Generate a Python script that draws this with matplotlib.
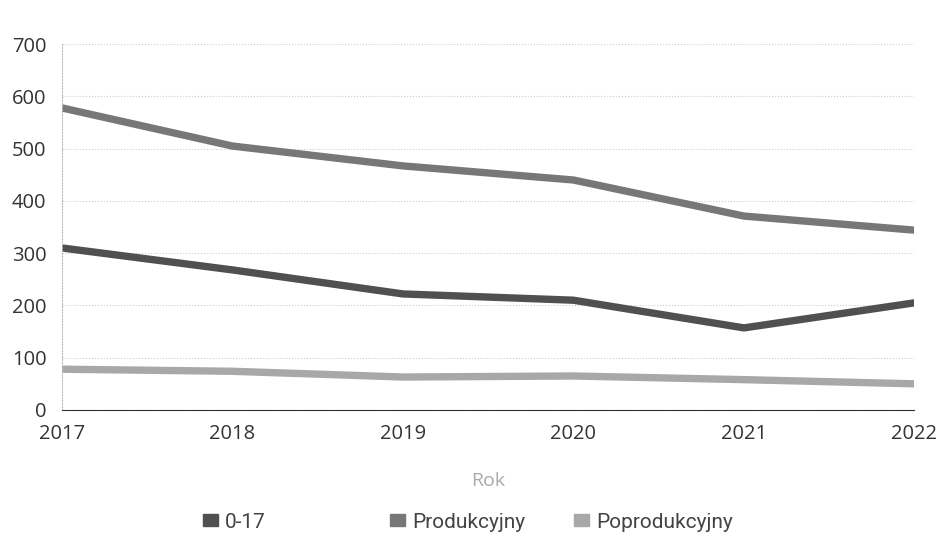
from matplotlib import pyplot as plt
from matplotlib.patches import Patch

plt.rcParams['font.family'] = ['Open Sans', 'DejaVu Sans']

years = [2017, 2018, 2019, 2020, 2021, 2022]
age_0_17 = [310, 268, 222, 210, 157, 205]
produkcyjny = [578, 505, 467, 440, 371, 344]
poprodukcyjny = [78, 74, 63, 65, 58, 50]

series = [
    ('0-17', age_0_17, '#505050'),
    ('Produkcyjny', produkcyjny, '#777777'),
    ('Poprodukcyjny', poprodukcyjny, '#a8a8a8'),
]
legend_x = [203, 390, 574]  # left edge of each legend swatch, px

fig = plt.figure(figsize=(9.36, 5.38), dpi=100)
ax = fig.add_axes([0.066, 0.238, 0.911, 0.68])

for name, vals, col in series:
    ax.plot(years, vals, color=col, linewidth=5.3, solid_capstyle='butt',
            solid_joinstyle='round', label=name)

ax.set_xlim(2017, 2022)
ax.set_ylim(0, 700)
ax.set_yticks(range(0, 701, 100))
ax.set_xticks(years)

ax.grid(axis='y', color='#cccccc', linestyle=':', linewidth=0.8)
for s in ['top', 'right']:
    ax.spines[s].set_visible(False)
ax.spines['left'].set_color('#bbbbbb')
ax.spines['left'].set_linestyle(':')
ax.spines['bottom'].set_color('#333333')
ax.tick_params(axis='both', length=0, labelsize=14.5, labelcolor='#333333')
ax.tick_params(axis='y', pad=11)
ax.tick_params(axis='x', pad=10)

ax.set_xlabel('Rok', fontsize=14, color='#aaaaaa', labelpad=20)

# one legend per entry, the gaps between entries are uneven in the original
for (name, _, col), lx in zip(series, legend_x):
    leg = fig.legend([Patch(color=col)], [name], loc='center left',
                     bbox_to_anchor=(lx / 936, 1 - 522 / 538), frameon=False,
                     borderpad=0, borderaxespad=0, handlelength=0.7,
                     handleheight=0.45, handletextpad=0.35,
                     labelcolor='#444444',
                     prop={'family': 'Roboto', 'size': 15})

plt.savefig('out.png', dpi=100)
